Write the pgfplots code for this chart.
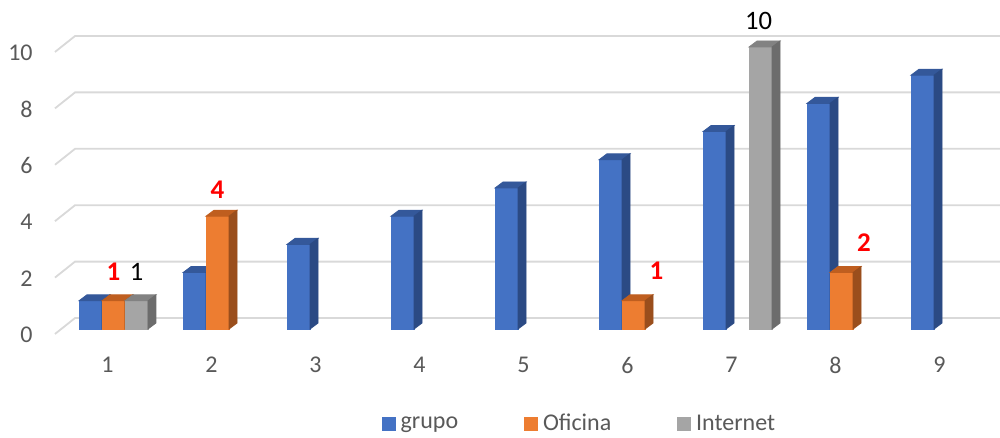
\documentclass[border=0pt]{standalone}
\usepackage{fontspec}
\setmainfont{Carlito}
\usepackage{pgfplots}
\usepackage{pgfplotstable}
\pgfplotsset{compat=1.18}

\definecolor{cgrupo}{HTML}{4472C4}
\definecolor{cgrupotop}{HTML}{34589A}
\definecolor{cgruposide}{HTML}{2B4A84}
\definecolor{cofic}{HTML}{ED7D31}
\definecolor{cofictop}{HTML}{BF5E1F}
\definecolor{coficside}{HTML}{9A4E1C}
\definecolor{cinter}{HTML}{A5A5A5}
\definecolor{cintertop}{HTML}{828282}
\definecolor{cinterside}{HTML}{6C6C6C}
\definecolor{cgrid}{HTML}{D9D9D9}
\definecolor{ctext}{HTML}{595959}

% empty plot mark: the scatter hook below draws the column itself
\pgfdeclareplotmark{nomark}{}

\pgfplotstableread{
cat grupo oficina internet
1   1     1       1
2   2     4       nan
3   3     nan     nan
4   4     nan     nan
5   5     nan     nan
6   6     1       nan
7   7     nan     10
8   8     2       nan
9   9     nan     nan
}\datatable

\pgfplotsset{
  % a 3-D column: front, top and right faces, drawn from the point (x, value)
  % #1 = left edge of the front face, #2 front, #3 top, #4 side colour
  column3d/.style n args={4}{
    only marks, scatter, mark=nomark,
    visualization depends on={rawy \as \barval},
    scatter/@pre marker code/.code={
      \fill[#2] (#1,0pt) rectangle ++(11.5pt,{-\barval*14.1pt});
      \fill[#3] (#1,0pt) -- ++(11.5pt,0pt) -- ++(4pt,3pt) -- ++(-11.5pt,0pt) -- cycle;
      \fill[#4] ({#1+11.5pt},0pt) -- ++(4pt,3pt) -- ++(0pt,{-\barval*14.1pt}) -- ++(-4pt,-3pt) -- cycle;
    },
    scatter/@post marker code/.code={},
    legend image code/.code={\fill[#2] (0pt,-3.25pt) rectangle (6.5pt,3.25pt);},
  },
}

\tikzset{
  lblred/.style={font=\fontsize{13.5}{15}\selectfont\bfseries, text=red, inner sep=0pt, anchor=center},
  lblblk/.style={font=\fontsize{13.3}{15}\selectfont, text=black, inner sep=0pt, anchor=center},
}

\begin{document}
\begin{tikzpicture}
\begin{axis}[
  name=ax,
  scale only axis, x=52pt, y=14.1pt,
  xmin=-0.0913, xmax=9.524, ymin=-3.865, ymax=11.667,
  clip=false,
  axis line style={draw=none},
  tick style={draw=none}, major tick length=0pt,
  xtick={1,...,9}, ytick={0,2,...,10},
  /pgf/number format/assume math mode=true,
  ticklabel style={font=\fontsize{12}{14}\selectfont, text=ctext, inner sep=0pt},
  xticklabel style={anchor=center, yshift=36.5pt, xshift=-3pt},
  yticklabel style={anchor=east, xshift=16.5pt, yshift=-3pt},
  legend columns=3,
  legend style={at={(rel axis cs:0.581,0.032)}, anchor=center, draw=none, fill=none,
    font=\fontsize{12}{14}\selectfont, text=ctext, inner sep=0pt,
    /tikz/every even column/.append style={column sep=30.5pt},
    nodes={inner sep=2.5pt}},
]
% back-wall gridlines with their side-wall returns
\pgfplotsinvokeforeach{0,2,4,6,8,10}{
  \draw[cgrid, line width=0.9pt]
    (axis cs:0.4375,{#1-0.177}) -- (axis cs:0.630,{#1+0.39}) -- (axis cs:9.524,{#1+0.39});
}

\addplot[column3d={-17.25pt}{cgrupo}{cgrupotop}{cgruposide}] table[x=cat, y=grupo] {\datatable};
\addlegendentry{grupo}
\addplot[column3d={-5.75pt}{cofic}{cofictop}{coficside}] table[x=cat, y=oficina] {\datatable};
\addlegendentry{Oficina}
\addplot[column3d={5.75pt}{cinter}{cintertop}{cinterside}] table[x=cat, y=internet] {\datatable};
\addlegendentry{Internet}

% data labels
\node[lblred, yshift=14.5pt] at (axis cs:1,1) {1};
\node[lblblk, xshift=11.5pt, yshift=14.5pt] at (axis cs:1,1) {1};
\node[lblred, yshift=13pt] at (axis cs:2,4) {4};
\node[lblred, xshift=11.5pt, yshift=15.25pt] at (axis cs:6,1) {1};
\node[lblred, xshift=11.25pt, yshift=14.8pt] at (axis cs:8,2) {2};
\node[lblblk, xshift=10.5pt, yshift=13.25pt] at (axis cs:7,10) {10};
\end{axis}
\pgfresetboundingbox
\path[use as bounding box] (ax.south west) rectangle (ax.north east);
\end{tikzpicture}
\end{document}
